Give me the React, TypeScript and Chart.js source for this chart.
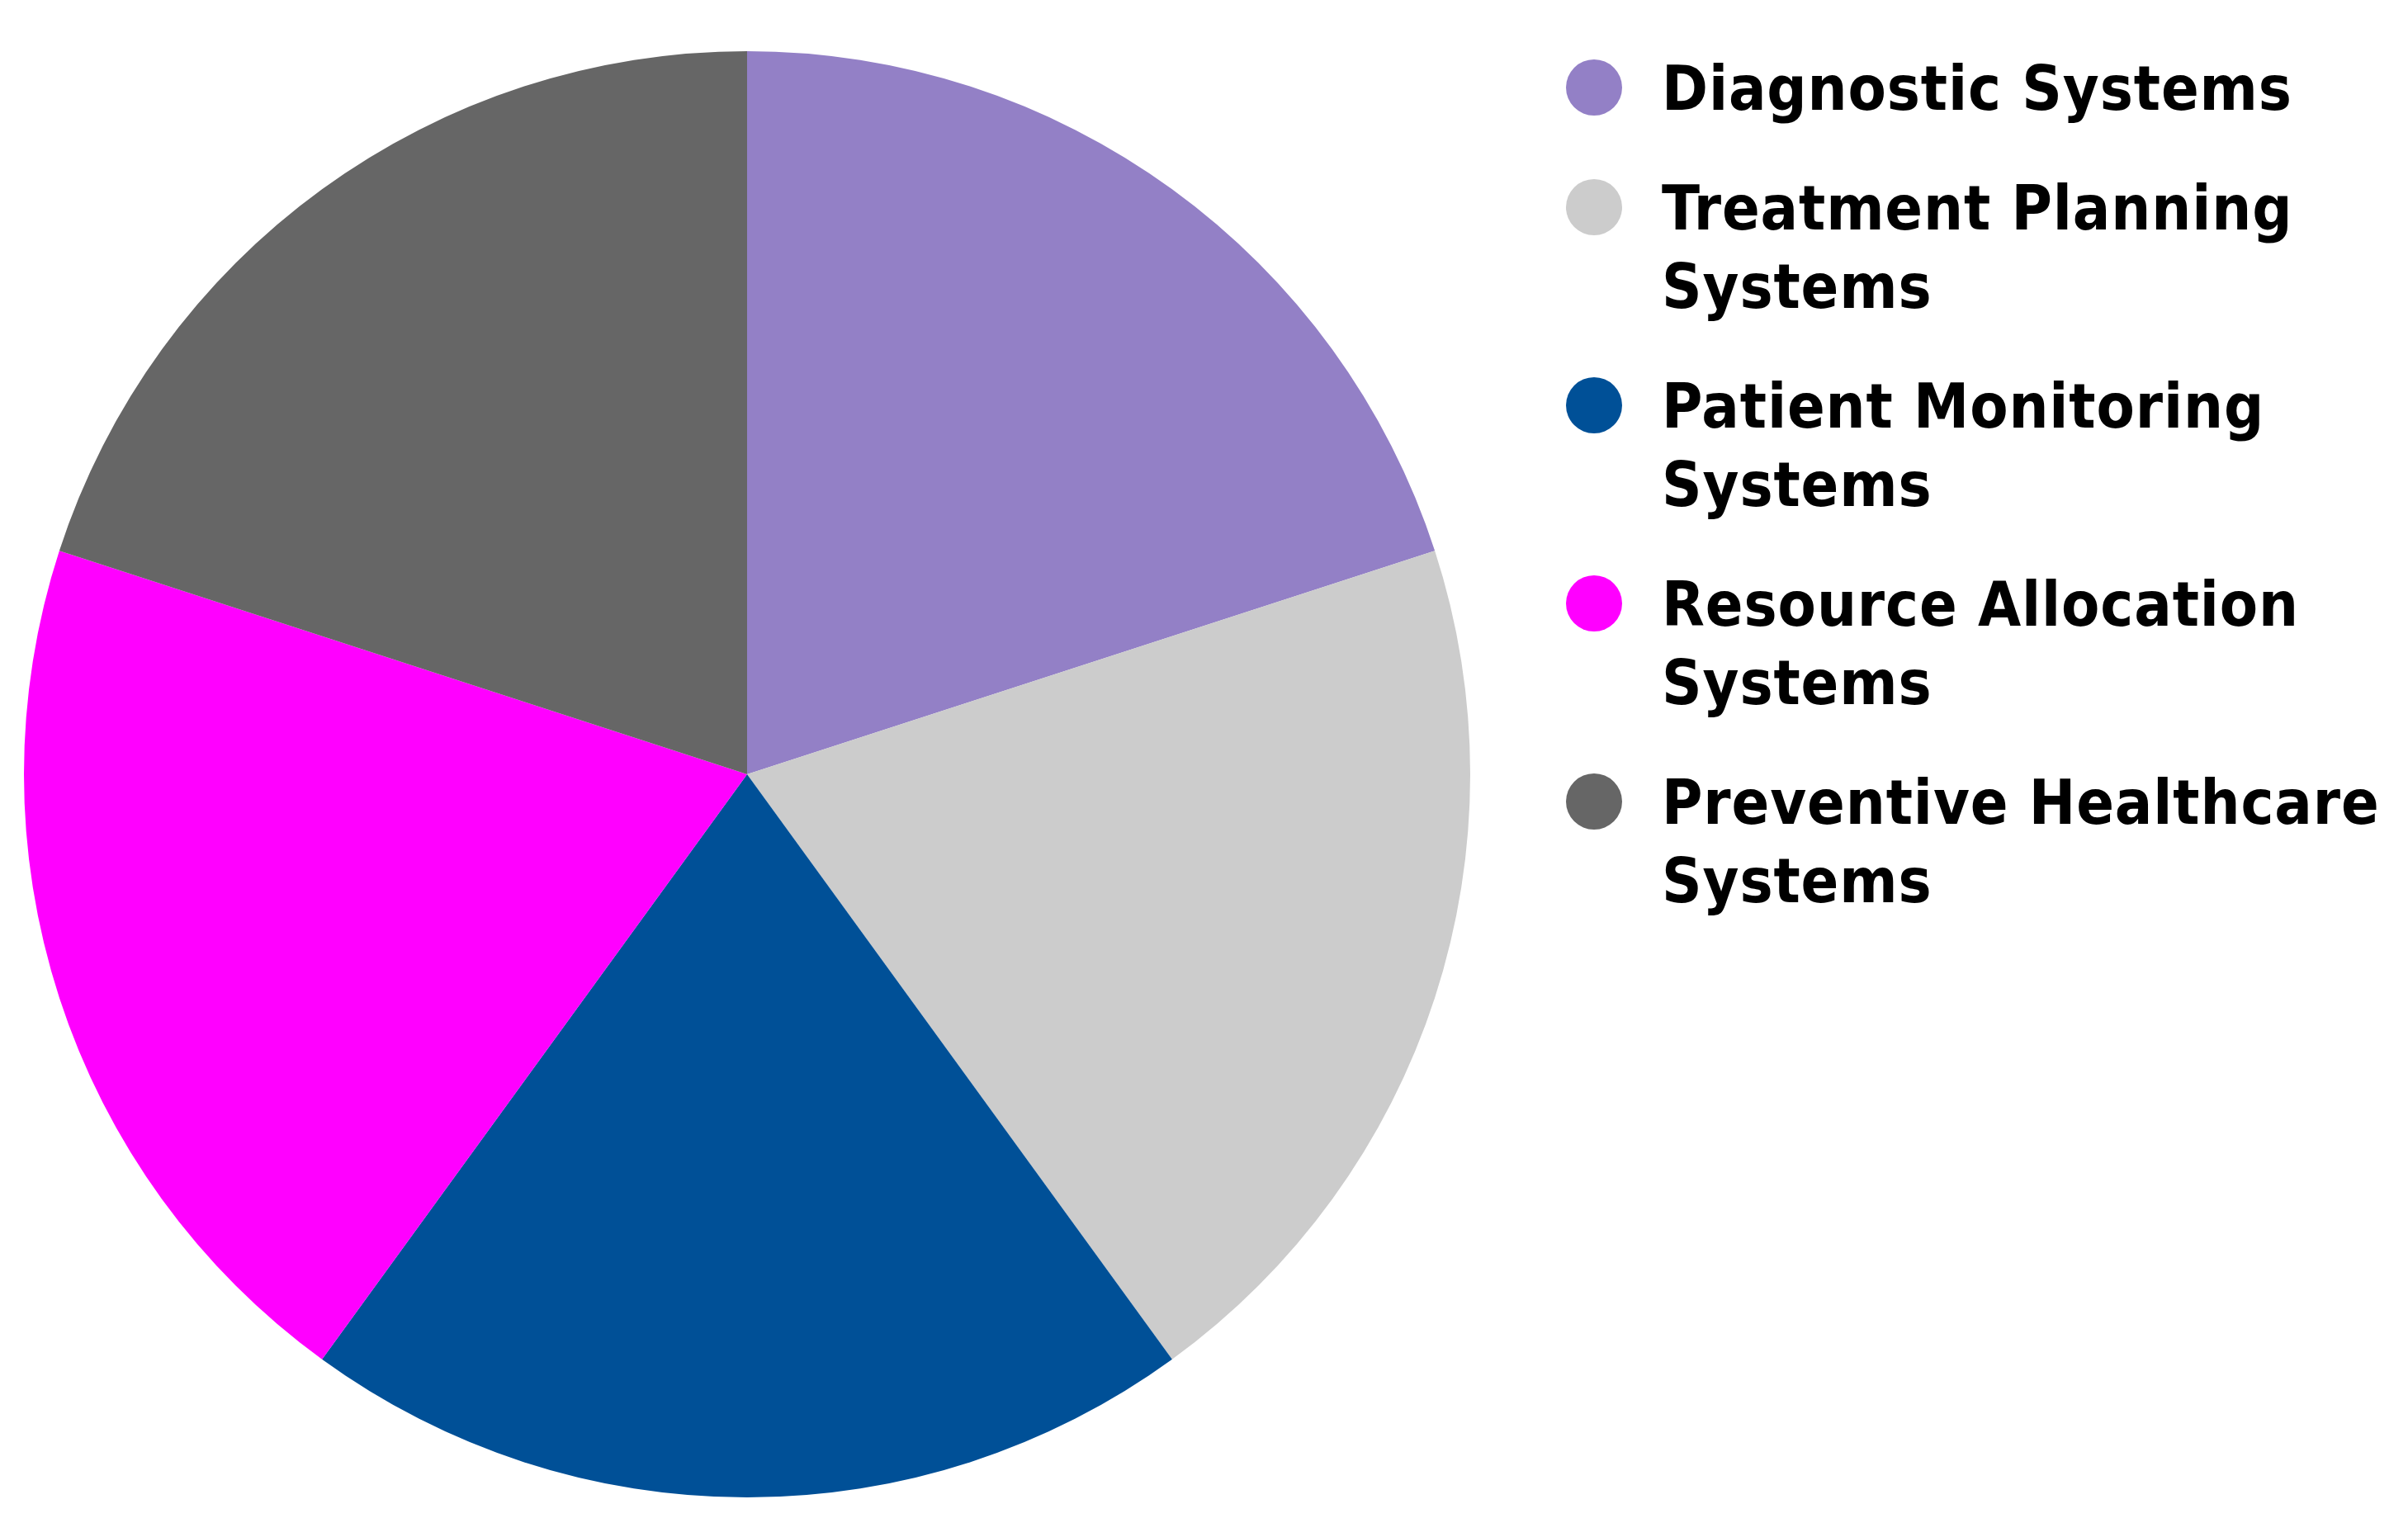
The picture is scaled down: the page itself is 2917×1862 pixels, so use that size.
import React, { useEffect, useRef } from "react";
import { Chart, registerables } from "chart.js";

Chart.register(...registerables);

const categories = [
  "Diagnostic Systems",
  "Treatment Planning Systems",
  "Patient Monitoring Systems",
  "Resource Allocation Systems",
  "Preventive Healthcare Systems",
];
const shares = [20, 20, 20, 20, 20];
const colors = ["#9380C6", "#CCCCCC", "#005097", "#FF00FF", "#666666"];

export default function App() {
  const canvasRef = useRef<HTMLCanvasElement | null>(null);

  useEffect(() => {
    const canvas = canvasRef.current;
    if (!canvas) return;
    const chart = new Chart(canvas, {
      type: "pie",
      data: {
        labels: categories,
        datasets: [
          {
            data: shares,
            backgroundColor: colors,
            borderWidth: 0,
          },
        ],
      },
      options: {
        animation: false,
        responsive: false,
        maintainAspectRatio: false,
        layout: { padding: 0 },
        plugins: {
          legend: { display: false },
          tooltip: { enabled: false },
        },
      },
    });
    return () => chart.destroy();
  }, []);

  return (
    <div
      style={{
        position: "absolute",
        left: 0,
        top: 0,
        width: 2917,
        height: 1862,
        overflow: "hidden",
        background: "#ffffff",
      }}
    >
      <canvas
        ref={canvasRef}
        width={1752}
        height={1752}
        style={{ position: "absolute", left: 29, top: 62, width: 1752, height: 1752 }}
      />
      <div
        style={{
          position: "absolute",
          left: 1897,
          top: 60,
          width: 1010,
          display: "flex",
          flexDirection: "column",
          gap: 50,
          fontFamily: "'DejaVu Sans Condensed', 'DejaVu Sans', sans-serif",
          fontWeight: "bold",
          fontSize: 75,
          letterSpacing: "0.9px",
          lineHeight: "95px",
          color: "#000000",
        }}
      >
        {categories.map((c, i) => (
          <div key={c} style={{ display: "flex", alignItems: "flex-start" }}>
            <div
              style={{
                width: 68,
                height: 68,
                borderRadius: "50%",
                background: colors[i],
                marginTop: 12,
                flex: "0 0 auto",
              }}
            />
            <div style={{ marginLeft: 48, width: 900 }}>{c}</div>
          </div>
        ))}
      </div>
    </div>
  );
}
